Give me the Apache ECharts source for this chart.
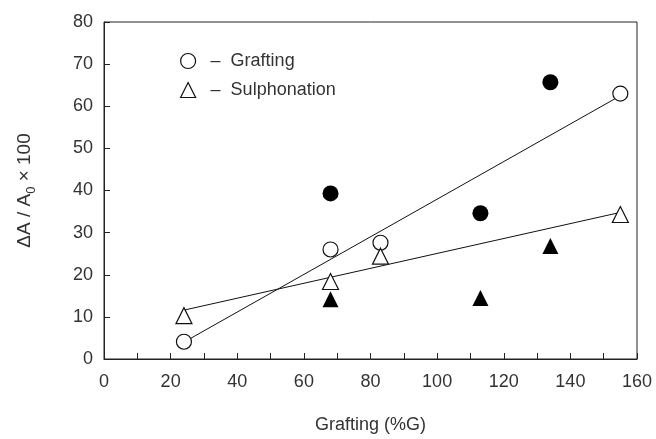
<!DOCTYPE html>
<html>
<head>
<meta charset="utf-8">
<script src="https://cdn.jsdelivr.net/npm/echarts@6/dist/echarts.min.js"></script>
<style>html,body{margin:0;padding:0;background:#fff}#c{width:656px;height:439px}</style>
</head>
<body>
<div id="c"></div>
<script>
// Data
const graftingOpen = [[24, 4.1], [68, 26.0], [83, 27.6], [155, 63.0]];
const sulphOpen = [[24, 10.3], [68, 18.4], [83, 24.4], [155, 34.3]];
const graftingFilled = [[68, 39.3], [113, 34.6], [134, 65.7]];
const sulphFilled = [[68, 14.2], [113, 14.5], [134, 26.8]];
const fitGrafting = [[24, 4.0], [155, 62.5]];
const fitSulph = [[24, 11.6], [155, 34.8]];
const xTicks = [0, 20, 40, 60, 80, 100, 120, 140, 160];
const yTicks = [0, 10, 20, 30, 40, 50, 60, 70, 80];

const FONT = 'Liberation Sans';
const TXT = '#333';
const openStyle = {color: '#fff', borderColor: '#111', borderWidth: 1.2, opacity: 1};
const chart = echarts.init(document.getElementById('c'), null, {renderer: 'canvas'});
chart.setOption({
  backgroundColor: '#fff',
  animation: false,
  grid: {left: 104, right: 19, top: 22, bottom: 79, show: true, borderColor: '#222', borderWidth: 1},
  legend: {
    orient: 'vertical', left: 175, top: 47, itemWidth: 15, itemHeight: 15, itemGap: 11,
    data: [
      {name: 'Grafting', icon: 'circle', itemStyle: openStyle},
      {name: 'Sulphonation', icon: 'triangle', itemStyle: openStyle}
    ],
    formatter: n => '–  ' + n,
    textStyle: {fontFamily: FONT, fontSize: 18, color: TXT, padding: [0, 0, 0, 10]}
  },
  xAxis: {
    type: 'value', min: xTicks[0], max: xTicks[xTicks.length - 1], interval: 20,
    name: 'Grafting (%G)', nameLocation: 'middle', nameGap: 57,
    nameTextStyle: {fontFamily: FONT, fontSize: 18, color: TXT},
    axisLine: {lineStyle: {color: '#222', width: 1}},
    axisTick: {inside: true, length: 6, lineStyle: {color: '#222'}},
    minorTick: {show: true, splitNumber: 2, length: 6, lineStyle: {color: '#222'}},
    axisLabel: {fontFamily: FONT, fontSize: 18, color: TXT, margin: 14},
    splitLine: {show: false}
  },
  yAxis: {
    type: 'value', min: yTicks[0], max: yTicks[yTicks.length - 1], interval: 10,
    name: '{a|ΔA / A}{s|0}{a| × 100}', nameLocation: 'middle', nameGap: 70,
    nameTextStyle: {
      fontFamily: FONT, color: TXT,
      rich: {
        a: {fontFamily: FONT, fontSize: 19, color: TXT, lineHeight: 24, verticalAlign: 'bottom'},
        s: {fontFamily: FONT, fontSize: 13, color: TXT, lineHeight: 14, verticalAlign: 'bottom', padding: [0, 0, -4, 0]}
      }
    },
    axisLine: {show: true, lineStyle: {color: '#222', width: 1}},
    axisTick: {show: true, inside: true, length: 6, lineStyle: {color: '#222'}},
    axisLabel: {fontFamily: FONT, fontSize: 18, color: TXT, margin: 11},
    splitLine: {show: false}
  },
  series: [
    {type: 'line', data: fitGrafting, symbol: 'none', silent: true, lineStyle: {color: '#111', width: 1}, z: 1},
    {type: 'line', data: fitSulph, symbol: 'none', silent: true, lineStyle: {color: '#111', width: 1}, z: 1},
    {name: 'Grafting', type: 'scatter', data: graftingOpen, symbol: 'circle', symbolSize: 15,
     itemStyle: openStyle, z: 3},
    {name: 'Sulphonation', type: 'scatter', data: sulphOpen, symbol: 'triangle', symbolSize: 16,
     itemStyle: openStyle, z: 3},
    {name: 'Grafting (filled)', type: 'scatter', data: graftingFilled, symbol: 'circle', symbolSize: 16,
     itemStyle: {color: '#000', opacity: 1}, z: 3},
    {name: 'Sulphonation (filled)', type: 'scatter', data: sulphFilled, symbol: 'triangle', symbolSize: 16,
     itemStyle: {color: '#000', opacity: 1}, z: 3}
  ]
});
</script>
</body>
</html>
